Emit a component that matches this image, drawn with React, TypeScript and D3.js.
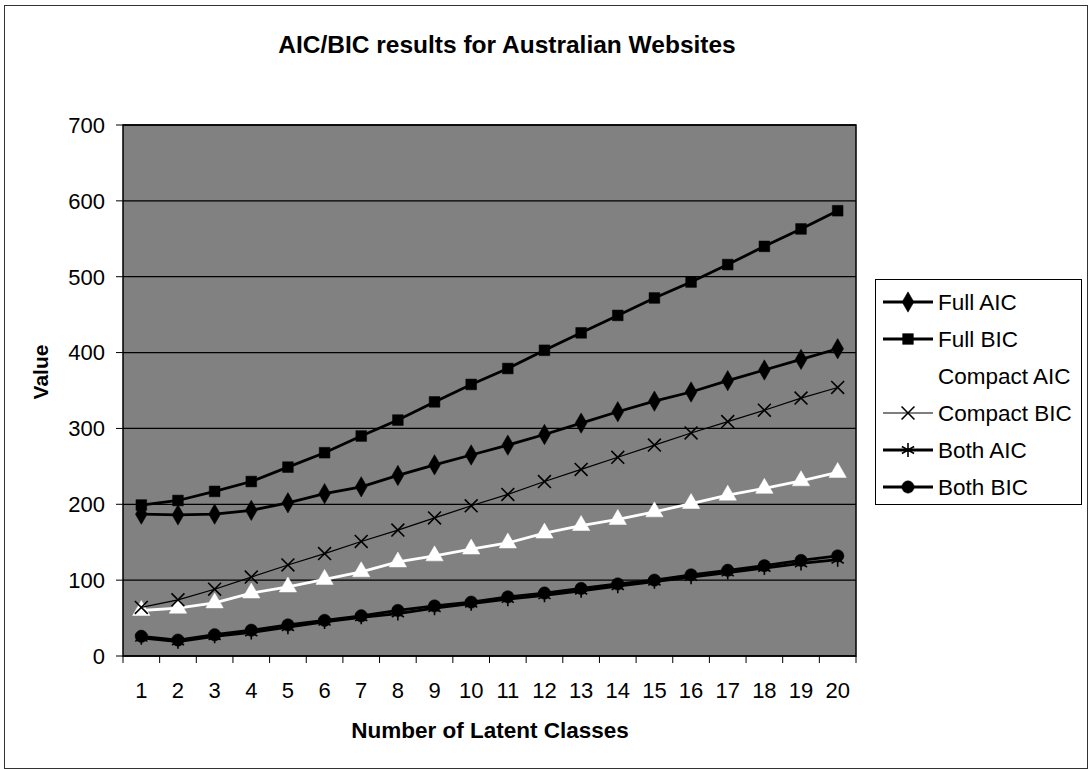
import React from "react";
import * as d3 from "d3";

const categories: number[] = d3.range(1, 21);
const yTicks: number[] = [0, 100, 200, 300, 400, 500, 600, 700];

const fullAIC = [187, 186, 187, 192, 202, 214, 223, 238, 252, 265, 278, 292, 307, 322, 336, 348, 363, 377, 391, 405];
const fullBIC = [199, 205, 217, 230, 249, 268, 290, 311, 335, 358, 379, 403, 426, 449, 472, 493, 516, 540, 563, 587];
const compactAIC = [60, 63, 70, 83, 91, 101, 111, 124, 132, 141, 149, 162, 172, 180, 190, 201, 212, 221, 231, 242];
const compactBIC = [64, 74, 88, 104, 120, 135, 151, 166, 182, 198, 213, 230, 246, 262, 278, 294, 309, 324, 340, 354];
const bothAIC = [24, 19, 26, 31, 38, 45, 51, 56, 63, 69, 75, 80, 86, 92, 98, 104, 110, 116, 122, 127];
const bothBIC = [26, 21, 28, 34, 41, 47, 53, 60, 66, 71, 78, 83, 89, 95, 100, 107, 113, 119, 126, 132];

type Series = {
  name: string;
  values: number[];
  color: string;
  width: number;
  symbol: d3.SymbolType;
  size: number;
  filled: boolean;
};

const series: Series[] = [
  { name: "Full AIC", values: fullAIC, color: "#000", width: 2.8, symbol: d3.symbolDiamond, size: 120, filled: true },
  { name: "Full BIC", values: fullBIC, color: "#000", width: 2.8, symbol: d3.symbolSquare, size: 115, filled: true },
  { name: "Compact AIC", values: compactAIC, color: "#fff", width: 2.8, symbol: d3.symbolTriangle, size: 130, filled: true },
  { name: "Compact BIC", values: compactBIC, color: "#000", width: 1.2, symbol: d3.symbolX, size: 110, filled: false },
  { name: "Both AIC", values: bothAIC, color: "#000", width: 2.8, symbol: d3.symbolAsterisk, size: 140, filled: false },
  { name: "Both BIC", values: bothBIC, color: "#000", width: 2.8, symbol: d3.symbolCircle, size: 120, filled: true },
];

const W = 1091;
const H = 769;
const plot = { left: 123, right: 856, top: 125, bottom: 656 };
const FONT = "'Liberation Sans', Arial, sans-serif";

export default function App() {
  const x = d3
    .scaleBand<number>()
    .domain(categories)
    .range([plot.left, plot.right])
    .paddingInner(0)
    .paddingOuter(0);
  const y = d3.scaleLinear().domain([0, 700]).range([plot.bottom, plot.top]);
  const cx = (c: number) => (x(c) as number) + x.bandwidth() / 2;

  const line = d3
    .line<number>()
    .x((_, i) => cx(categories[i]))
    .y((v) => y(v));

  const legend = { x: 875, y: 279, w: 206, h: 225, row0: 302, step: 37 };

  return (
    <div style={{ position: "absolute", left: 0, top: 0 }}>
      <svg width={W} height={H} style={{ display: "block", fontFamily: FONT }}>
        <rect x={0} y={0} width={W} height={H} fill="#fff" />
        {/* outer chart frame */}
        <rect x={4.5} y={5.5} width={1083} height={763} fill="none" stroke="#333" strokeWidth={1} />

        <text x={507} y={53} textAnchor="middle" fontSize={24.5} fontWeight="bold" fill="#000">
          AIC/BIC results for Australian Websites
        </text>

        {/* plot area */}
        <rect
          x={plot.left}
          y={plot.top}
          width={plot.right - plot.left}
          height={plot.bottom - plot.top}
          fill="#818181"
        />
        {yTicks.map((t) => (
          <line key={"g" + t} x1={plot.left} x2={plot.right} y1={y(t)} y2={y(t)} stroke="#000" strokeWidth={1.3} />
        ))}
        <rect
          x={plot.left}
          y={plot.top}
          width={plot.right - plot.left}
          height={plot.bottom - plot.top}
          fill="none"
          stroke="#000"
          strokeWidth={1.5}
        />

        {/* y axis */}
        {yTicks.map((t) => (
          <g key={"y" + t}>
            <line x1={plot.left - 7} x2={plot.left} y1={y(t)} y2={y(t)} stroke="#000" strokeWidth={1} />
            <text x={105} y={y(t)} dy="0.36em" textAnchor="end" fontSize={22} fill="#000">
              {t}
            </text>
          </g>
        ))}
        <text
          transform={`translate(48,372) rotate(-90)`}
          textAnchor="middle"
          fontSize={21}
          fontWeight="bold"
          fill="#000"
        >
          Value
        </text>

        {/* x axis */}
        {categories.map((c) => (
          <line
            key={"xt" + c}
            x1={x(c) as number}
            x2={x(c) as number}
            y1={plot.bottom}
            y2={plot.bottom + 7}
            stroke="#000"
            strokeWidth={1}
          />
        ))}
        <line x1={plot.right} x2={plot.right} y1={plot.bottom} y2={plot.bottom + 7} stroke="#000" strokeWidth={1} />
        {categories.map((c) => (
          <text key={"xl" + c} x={cx(c)} y={698} textAnchor="middle" fontSize={22} fill="#000">
            {c}
          </text>
        ))}
        <text x={490} y={738} textAnchor="middle" fontSize={22.5} fontWeight="bold" fill="#000">
          Number of Latent Classes
        </text>

        {/* series */}
        {series.map((s) => (
          <g key={s.name}>
            <path d={line(s.values) || ""} fill="none" stroke={s.color} strokeWidth={s.width} />
            {s.values.map((v, i) => (
              <path
                key={i}
                transform={`translate(${cx(categories[i])},${y(v)})`}
                d={d3.symbol(s.symbol, s.size)() || ""}
                fill={s.filled ? s.color : "none"}
                stroke={s.color}
                strokeWidth={s.filled ? 0.5 : 1.6}
              />
            ))}
          </g>
        ))}

        {/* legend */}
        <rect
          x={legend.x + 0.5}
          y={legend.y + 0.5}
          width={legend.w}
          height={legend.h}
          fill="#fff"
          stroke="#000"
          strokeWidth={1}
        />
        {series.map((s, i) => {
          const ly = legend.row0 + i * legend.step;
          return (
            <g key={"lg" + s.name}>
              <line x1={883} x2={933} y1={ly} y2={ly} stroke={s.color} strokeWidth={s.width} />
              <path
                transform={`translate(908,${ly})`}
                d={d3.symbol(s.symbol, s.size)() || ""}
                fill={s.filled ? s.color : "none"}
                stroke={s.color}
                strokeWidth={s.filled ? 0.5 : 1.6}
              />
              <text x={938} y={ly} dy="0.36em" fontSize={22.5} fill="#000">
                {s.name}
              </text>
            </g>
          );
        })}
      </svg>
    </div>
  );
}
